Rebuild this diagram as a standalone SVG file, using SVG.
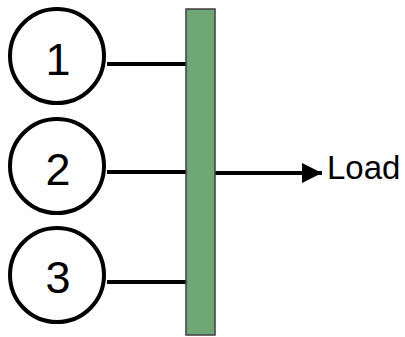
<svg xmlns="http://www.w3.org/2000/svg" width="405" height="337" viewBox="0 0 405 337">
  <defs>
    <style>
      .gen circle { fill: #ffffff; stroke: #000000; stroke-width: 4; }
      .gen text { font-family: "Liberation Sans", Arial, sans-serif; font-size: 45px; text-anchor: middle; fill: #000000; }
      .wire { stroke: #000000; stroke-width: 4; fill: none; }
      .label { font-family: "Liberation Sans", Arial, sans-serif; font-size: 33px; fill: #000000; }
    </style>
    <marker id="arrow" markerWidth="6" markerHeight="6" refX="5" refY="3" orient="auto" markerUnits="strokeWidth">
      <path d="M0,0.5 L5,3 L0,5.5 Z" fill="#000000"/>
    </marker>
  </defs>

  <!-- connectors -->
  <g id="connectors">
    <line class="wire" x1="107" y1="64" x2="187" y2="64"/>
    <line class="wire" x1="107" y1="172" x2="187" y2="172"/>
    <line class="wire" x1="107" y1="282" x2="187" y2="282"/>
    <line class="wire" x1="214" y1="173" x2="322" y2="173" marker-end="url(#arrow)"/>
  </g>

  <!-- bus bar -->
  <g id="bus">
    <rect x="186" y="9" width="29" height="326" fill="#6fa776" stroke="#3f3f3f" stroke-width="1.5"/>
  </g>

  <!-- generators -->
  <g id="gen1" class="gen">
    <circle cx="57" cy="56" r="47"/>
    <text x="58" y="75">1</text>
  </g>
  <g id="gen2" class="gen">
    <circle cx="57" cy="166" r="47"/>
    <text x="58" y="185">2</text>
  </g>
  <g id="gen3" class="gen">
    <circle cx="57" cy="275" r="47"/>
    <text x="58" y="293">3</text>
  </g>

  <!-- load label -->
  <g id="load">
    <text class="label" x="327" y="179">Load</text>
  </g>
</svg>
